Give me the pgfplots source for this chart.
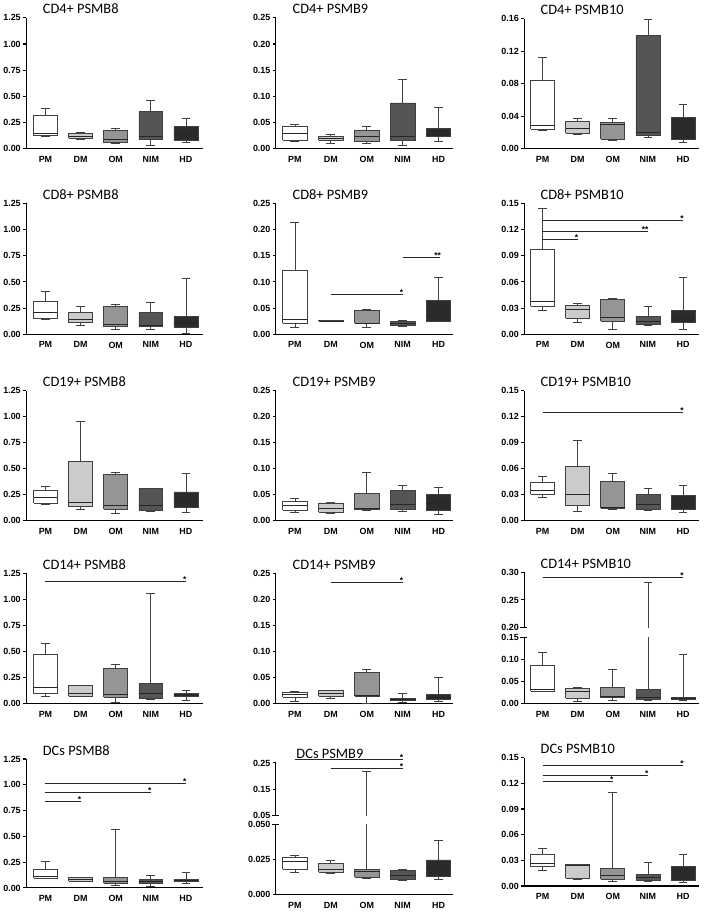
\documentclass[border=0pt]{standalone}
\usepackage{fontspec}
\setmainfont{Liberation Sans}
\newfontfamily\titlefont{Carlito}
\usepackage{pgfplots}
\pgfplotsset{compat=1.18}
\definecolor{cPM}{HTML}{FFFFFF}
\definecolor{cDM}{HTML}{CBCBCB}
\definecolor{cOM}{HTML}{959595}
\definecolor{cNIM}{HTML}{555555}
\definecolor{cHD}{HTML}{2B2B2B}
% box: #1 position, #2 fill, #3 lower whisker, #4 lower quartile, #5 median, #6 upper quartile, #7 upper whisker
\newcommand{\bx}[7]{%
\pgfmathsetmacro\xa{#1-0.34}\pgfmathsetmacro\xb{#1+0.34}%
\pgfmathsetmacro\ca{#1-0.125}\pgfmathsetmacro\cb{#1+0.125}%
\edef\doit{%
\noexpand\addplot[draw=black!75, line width=0.7pt] coordinates {(#1,#3) (#1,#7)};%
\noexpand\addplot[draw=black!75, line width=0.7pt] coordinates {(\ca,#7) (\cb,#7)};%
\noexpand\addplot[draw=black!75, line width=0.7pt] coordinates {(\ca,#3) (\cb,#3)};%
\noexpand\addplot[fill=#2, draw=black!75, line width=0.7pt] coordinates {(\xa,#4) (\xb,#4) (\xb,#6) (\xa,#6) (\xa,#4)};%
\noexpand\addplot[draw=black!85, line width=0.8pt] coordinates {(\xa,#5) (\xb,#5)};%
}\doit}
\newcommand{\sig}[4]{\draw[line width=0.8pt, black!85] (axis cs:#1,#3) -- (axis cs:#2,#3) node[pos=1, above left, inner sep=0pt, xshift=1pt, yshift=-1.5pt, font=\bfseries\fontsize{8.5}{8.5}\selectfont, black] {#4};}
\newcommand{\brk}[1]{\draw[line width=1.1pt] (rel axis cs:0,#1) ++(-4pt,0pt) -- ++(7pt,0pt);}
\pgfplotsset{
  every axis title shift=0pt,
  panel/.style={scale only axis, height=131pt, ymin=0,
    axis x line*=bottom, axis y line*=left,
    xtick={1,2,3,4,5}, xticklabels={PM,DM,OM,NIM,HD},
    x tick style={draw=none},
    tick label style={font=\bfseries\fontsize{9}{10}\selectfont},
    axis line style={line width=1.1pt}, y tick style={line width=1.1pt, black},
    tick align=outside, major tick length=3pt, clip mode=individual,
    title style={at={(0.093,1)}, anchor=base west, yshift=4pt, inner sep=0pt, font=\titlefont\fontsize{14.5}{16}\selectfont},
    scaled y ticks=false,
    yticklabel style={/pgf/number format/fixed, /pgf/number format/fixed zerofill, /pgf/number format/precision=2, xshift=1pt},
    /pgf/number format/assume math mode=true,
    xticklabel style={yshift=-1pt}},
  col1/.style={xmin=0.45, xmax=5.5, width=178.7pt},
  col2/.style={xmin=0.47, xmax=5.41, width=178.8pt},
  col3/.style={xmin=0.48, xmax=5.45, width=176pt},
  big/.style={ymax=1.25, ytick={0,0.25,0.5,0.75,1,1.25}},
  b9/.style={ymax=0.25, ytick={0,0.05,0.1,0.15,0.2,0.25}},
  b10/.style={ymax=0.15, ytick={0,0.03,0.06,0.09,0.12,0.15}},
}
\begin{document}
\begin{tikzpicture}
\path (0pt,0pt) rectangle (708pt,912pt);
% ---------------- Row 1
\begin{axis}[panel, col1, big, at={(23.3pt,762pt)}, anchor=south west, height=132pt, title={CD4+ PSMB8}]
\bx{1}{cPM}{0.117}{0.126}{0.145}{0.316}{0.388}
\bx{2}{cDM}{0.088}{0.104}{0.114}{0.145}{0.155}
\bx{3}{cOM}{0.050}{0.060}{0.092}{0.177}{0.193}
\bx{4}{cNIM}{0.035}{0.092}{0.114}{0.357}{0.460}
\bx{5}{cHD}{0.060}{0.085}{0.130}{0.210}{0.287}
\end{axis}
\begin{axis}[panel, col2, b9, at={(275pt,762pt)}, anchor=south west, height=132pt, title={CD4+ PSMB9}]
\bx{1}{cPM}{0.0146}{0.0159}{0.0286}{0.0438}{0.0463}
\bx{2}{cDM}{0.0102}{0.0160}{0.0197}{0.0235}{0.0267}
\bx{3}{cOM}{0.0102}{0.0133}{0.0235}{0.0360}{0.0420}
\bx{4}{cNIM}{0.0070}{0.0171}{0.0228}{0.0876}{0.1330}
\bx{5}{cHD}{0.0133}{0.0235}{0.0267}{0.0387}{0.0800}
\end{axis}
\begin{axis}[panel, col3, at={(525.3pt,762pt)}, anchor=south west, height=131pt, ymax=0.16, ytick={0,0.04,0.08,0.12,0.16}, title={CD4+ PSMB10}]
\bx{1}{cPM}{0.0228}{0.0244}{0.0285}{0.0839}{0.1124}
\bx{2}{cDM}{0.0179}{0.0190}{0.0252}{0.0334}{0.0370}
\bx{3}{cOM}{0.0102}{0.0118}{0.0305}{0.0326}{0.0375}
\bx{4}{cNIM}{0.0147}{0.0167}{0.0200}{0.1400}{0.1596}
\bx{5}{cHD}{0.0085}{0.0118}{0.0240}{0.0390}{0.0546}
\end{axis}
% ---------------- Row 2
\begin{axis}[panel, col1, big, at={(23.3pt,575pt)}, anchor=south west, height=132pt, title={CD8+ PSMB8}]
\bx{1}{cPM}{0.146}{0.149}{0.212}{0.316}{0.408}
\bx{2}{cDM}{0.085}{0.111}{0.142}{0.212}{0.269}
\bx{3}{cOM}{0.044}{0.073}{0.098}{0.269}{0.285}
\bx{4}{cNIM}{0.047}{0.079}{0.085}{0.206}{0.304}
\bx{5}{cHD}{0.010}{0.063}{0.101}{0.171}{0.535}
\end{axis}
\begin{axis}[panel, col2, b9, at={(275pt,575pt)}, anchor=south west, height=132pt, title={CD8+ PSMB9}]
\bx{1}{cPM}{0.0127}{0.0209}{0.0290}{0.1230}{0.2130}
\bx{2}{cDM}{0.0245}{0.0247}{0.0255}{0.0266}{0.0268}
\bx{3}{cOM}{0.0139}{0.0210}{0.0215}{0.0450}{0.0468}
\bx{4}{cNIM}{0.0152}{0.0177}{0.0215}{0.0247}{0.0272}
\bx{5}{cHD}{0.0247}{0.0250}{0.0335}{0.0650}{0.1095}
\sig{2}{4}{0.077}{*}
\sig{4}{5.05}{0.147}{**}
\end{axis}
\begin{axis}[panel, col3, b10, at={(525.3pt,575pt)}, anchor=south west, height=132pt, title={CD8+ PSMB10}]
\bx{1}{cPM}{0.0280}{0.0322}{0.0376}{0.0970}{0.1440}
\bx{2}{cDM}{0.0134}{0.0188}{0.0284}{0.0330}{0.0360}
\bx{3}{cOM}{0.0054}{0.0150}{0.0190}{0.0400}{0.0410}
\bx{4}{cNIM}{0.0104}{0.0110}{0.0153}{0.0203}{0.0326}
\bx{5}{cHD}{0.0061}{0.0134}{0.0176}{0.0272}{0.0656}
\sig{1}{5}{0.130}{*}
\sig{1}{4}{0.118}{**}
\sig{1}{2}{0.109}{*}
\end{axis}
% ---------------- Row 3
\begin{axis}[panel, col1, big, at={(23.3pt,387pt)}, anchor=south west, title={CD19+ PSMB8}]
\bx{1}{cPM}{0.156}{0.168}{0.225}{0.298}{0.330}
\bx{2}{cDM}{0.108}{0.136}{0.178}{0.568}{0.961}
\bx{3}{cOM}{0.076}{0.111}{0.149}{0.444}{0.470}
\bx{4}{cNIM}{0.095}{0.100}{0.149}{0.311}{0.314}
\bx{5}{cHD}{0.086}{0.133}{0.197}{0.279}{0.454}
\end{axis}
\begin{axis}[panel, col2, b9, at={(275pt,387pt)}, anchor=south west, title={CD19+ PSMB9}]
\bx{1}{cPM}{0.0159}{0.0210}{0.0300}{0.0382}{0.0439}
\bx{2}{cDM}{0.0140}{0.0172}{0.0248}{0.0344}{0.0363}
\bx{3}{cOM}{0.0204}{0.0216}{0.0235}{0.0534}{0.0929}
\bx{4}{cNIM}{0.0190}{0.0230}{0.0312}{0.0579}{0.0680}
\bx{5}{cHD}{0.0127}{0.0210}{0.0337}{0.0509}{0.0636}
\end{axis}
\begin{axis}[panel, col3, b10, at={(525.3pt,387pt)}, anchor=south west, title={CD19+ PSMB10}]
\bx{1}{cPM}{0.0267}{0.0306}{0.0357}{0.0446}{0.0512}
\bx{2}{cDM}{0.0112}{0.0174}{0.0302}{0.0624}{0.0930}
\bx{3}{cOM}{0.0128}{0.0147}{0.0151}{0.0457}{0.0554}
\bx{4}{cNIM}{0.0116}{0.0132}{0.0186}{0.0306}{0.0380}
\bx{5}{cHD}{0.0093}{0.0136}{0.0209}{0.0298}{0.0410}
\sig{1}{5}{0.1248}{*}
\end{axis}
% ---------------- Row 4
\begin{axis}[panel, col1, big, at={(23.3pt,203pt)}, anchor=south west, title={CD14+ PSMB8}]
\bx{1}{cPM}{0.070}{0.095}{0.156}{0.474}{0.579}
\bx{2}{cDM}{0.064}{0.067}{0.095}{0.172}{0.172}
\bx{3}{cOM}{0.010}{0.060}{0.083}{0.334}{0.372}
\bx{4}{cNIM}{0.041}{0.048}{0.099}{0.194}{1.059}
\bx{5}{cHD}{0.032}{0.064}{0.080}{0.095}{0.127}
\sig{1}{5}{1.17}{*}
\end{axis}
\begin{axis}[panel, col2, b9, at={(275pt,203pt)}, anchor=south west, title={CD14+ PSMB9}]
\bx{1}{cPM}{0.0038}{0.0115}{0.0173}{0.0217}{0.0237}
\bx{2}{cDM}{0.0102}{0.0140}{0.0185}{0.0249}{0.0256}
\bx{3}{cOM}{0.0006}{0.0134}{0.0147}{0.0595}{0.0646}
\bx{4}{cNIM}{0.0026}{0.0058}{0.0077}{0.0102}{0.0192}
\bx{5}{cHD}{0.0038}{0.0077}{0.0115}{0.0166}{0.0505}
\sig{2}{4}{0.232}{*}
\end{axis}
% CD14+ PSMB10 broken axis
\begin{axis}[panel, col3, at={(525.3pt,202.7pt)}, anchor=south west, height=66.6pt, ymax=0.15, ytick={0,0.05,0.1,0.15}]
\bx{1}{cPM}{0.0280}{0.0285}{0.0315}{0.0870}{0.1160}
\bx{2}{cDM}{0.0060}{0.0120}{0.0270}{0.0350}{0.0368}
\bx{3}{cOM}{0.0083}{0.0135}{0.0158}{0.0368}{0.0780}
\bx{4}{cNIM}{0.0083}{0.0098}{0.0143}{0.0330}{0.2810}
\bx{5}{cHD}{0.0068}{0.0090}{0.0128}{0.0150}{0.1110}
\brk{1}
\end{axis}
\begin{axis}[panel, col3, at={(525.3pt,279.3pt)}, anchor=south west, height=56pt, ymin=0.2, ymax=0.3, ytick={0.2,0.25,0.3}, axis x line=none, title={CD14+ PSMB10}]
\bx{4}{cNIM}{0.0083}{0.0098}{0.0143}{0.0330}{0.2810}
\brk{0}
\sig{1}{5}{0.291}{*}
\end{axis}
% ---------------- Row 5
\begin{axis}[panel, col1, big, at={(23.3pt,17pt)}, anchor=south west, height=130pt, title={DCs PSMB8}]
\bx{1}{cPM}{0.089}{0.095}{0.108}{0.180}{0.256}
\bx{2}{cDM}{0.060}{0.063}{0.082}{0.100}{0.104}
\bx{3}{cOM}{0.025}{0.044}{0.060}{0.104}{0.570}
\bx{4}{cNIM}{0.013}{0.047}{0.063}{0.085}{0.127}
\bx{5}{cHD}{0.041}{0.060}{0.073}{0.085}{0.155}
\sig{1}{5}{1.01}{*}
\sig{1}{4}{0.927}{*}
\sig{1}{2}{0.839}{*}
\end{axis}
% DCs PSMB9 broken axis
\begin{axis}[panel, col2, at={(275pt,10pt)}, anchor=south west, height=71pt, ymax=0.05, ytick={0,0.025,0.05}, yticklabel style={/pgf/number format/precision=3}]
\bx{1}{cPM}{0.0163}{0.0183}{0.0236}{0.0266}{0.0282}
\bx{2}{cDM}{0.0156}{0.0163}{0.0179}{0.0225}{0.0248}
\bx{3}{cOM}{0.0115}{0.0128}{0.0165}{0.0179}{0.2167}
\bx{4}{cNIM}{0.0103}{0.0110}{0.0140}{0.0174}{0.0183}
\bx{5}{cHD}{0.0110}{0.0133}{0.0190}{0.0248}{0.0385}
\brk{1}
\end{axis}
\begin{axis}[panel, col2, at={(275pt,90pt)}, anchor=south west, height=53pt, ymin=0.05, ymax=0.25, ytick={0.05,0.15,0.25}, axis x line=none, title={DCs PSMB9}, title style={at={(0.115,1)}}]
\bx{3}{cOM}{0.0115}{0.0128}{0.0165}{0.0179}{0.2167}
\brk{0}
\sig{1}{4}{0.2625}{*}
\sig{2}{4}{0.228}{*}
\end{axis}
\begin{axis}[panel, col3, b10, at={(525.3pt,19pt)}, anchor=south west, height=129.3pt, title={DCs PSMB10}]
\bx{1}{cPM}{0.0186}{0.0224}{0.0259}{0.0371}{0.0437}
\bx{2}{cDM}{0.0081}{0.0089}{0.0240}{0.0251}{0.0255}
\bx{3}{cOM}{0.0058}{0.0081}{0.0128}{0.0205}{0.1094}
\bx{4}{cNIM}{0.0058}{0.0070}{0.0104}{0.0135}{0.0271}
\bx{5}{cHD}{0.0046}{0.0066}{0.0143}{0.0232}{0.0371}
\sig{1}{5}{0.1407}{*}
\sig{1}{4}{0.1295}{*}
\sig{1}{3}{0.1218}{*}
\end{axis}
\end{tikzpicture}
\end{document}
